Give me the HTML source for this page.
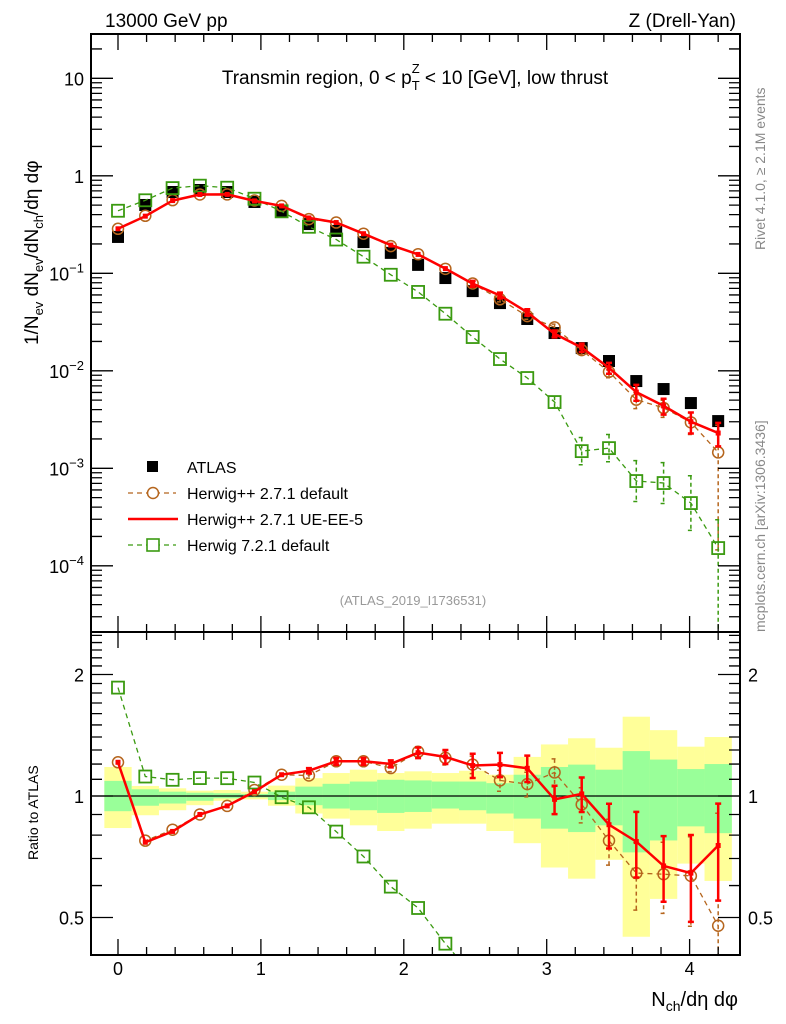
<!DOCTYPE html>
<html><head><meta charset="utf-8"><style>
html,body{margin:0;padding:0;background:#fff;overflow:hidden;width:786px;height:1024px;}
svg{display:block;font-family:"Liberation Sans",sans-serif;}
</style></head><body>
<svg id="chart" width="786" height="1024" viewBox="0 0 786 1024" xmlns="http://www.w3.org/2000/svg">
<defs>
<clipPath id="clipTop"><rect x="91" y="34" width="649" height="598"/></clipPath>
<clipPath id="clipBot"><rect x="91" y="632" width="649" height="323"/></clipPath>
</defs>
<text x="105" y="27" font-size="19">13000 GeV pp</text>
<text x="736" y="27" font-size="19" text-anchor="end">Z (Drell-Yan)</text>
<text x="415" y="84" font-size="19" text-anchor="middle">Transmin region, 0 &lt; p<tspan font-size="13" dy="6">T</tspan><tspan font-size="13" dx="-8" dy="-17">Z</tspan><tspan dy="11"> &lt; 10 [GeV], low thrust</tspan></text>
<text transform="translate(765,250) rotate(-90)" font-size="14" fill="#888">Rivet 4.1.0, ≥ 2.1M events</text>
<text transform="translate(765,632) rotate(-90)" font-size="14" fill="#888">mcplots.cern.ch [arXiv:1306.3436]</text>
<text transform="translate(38,345) rotate(-90)" font-size="19">1/N<tspan font-size="13" dy="5">ev</tspan><tspan dy="-5"> dN</tspan><tspan font-size="13" dy="5">ev</tspan><tspan dy="-5">/dN</tspan><tspan font-size="13" dy="5">ch</tspan><tspan dy="-5">/dη dφ</tspan></text>
<text transform="translate(38,860) rotate(-90)" font-size="14">Ratio to ATLAS</text>
<text x="738" y="1006" font-size="20" text-anchor="end">N<tspan font-size="14" dy="5">ch</tspan><tspan dy="-5">/dη dφ</tspan></text>
<text x="413" y="605" font-size="13" fill="#999" text-anchor="middle">(ATLAS_2019_I1736531)</text>
<g id="bands" clip-path="url(#clipBot)"></g>
<g id="marksTop" clip-path="url(#clipTop)"></g>
<g id="marksBot" clip-path="url(#clipBot)"></g>
<g id="axes"></g>
<g id="legend"></g>
</svg>
<script>
const nch = [0,0.191,0.382,0.573,0.764,0.955,1.145,1.336,1.527,1.718,1.909,2.1,2.291,2.482,2.673,2.864,3.055,3.245,3.436,3.627,3.818,4.009,4.2];
const atlas = [0.236,0.502,0.682,0.715,0.682,0.539,0.435,0.320,0.272,0.209,0.162,0.122,0.0894,0.0657,0.0495,0.0340,0.0244,0.0171,0.0126,0.00785,0.0065,0.00467,0.00305];
const redRatio = [1.212,0.768,0.817,0.900,0.945,1.025,1.129,1.155,1.219,1.219,1.201,1.28,1.25,1.19,1.196,1.171,0.981,1.012,0.849,0.771,0.671,0.644,0.754];
const redErr = [0.01,0.01,0.01,0.01,0.01,0.01,0.01,0.015,0.02,0.02,0.02,0.03,0.04,0.069,0.069,0.075,0.081,0.098,0.127,0.185,0.185,0.243,0.27];
const brownRatio = [1.212,0.775,0.825,0.900,0.945,1.035,1.129,1.124,1.219,1.219,1.173,1.287,1.243,1.196,1.093,1.070,1.144,0.953,0.775,0.644,0.640,0.634,0.477];
const brownErr = [0.01,0.01,0.01,0.01,0.01,0.01,0.01,0.015,0.02,0.02,0.02,0.03,0.04,0.05,0.06,0.07,0.08,0.1,0.13,0.19,0.2,0.25,0.9];
const green = [0.438,0.561,0.748,0.792,0.755,0.582,0.432,0.300,0.222,0.148,0.0966,0.0644,0.0385,0.0222,0.0132,0.00843,0.00478,0.00150,0.00161,0.00074,0.000706,0.00044,0.000152];
const greenErrUpDex = [0,0,0,0,0,0,0,0,0,0,0,0,0.01,0.01,0.01,0.02,0.06,0.14,0.14,0.21,0.21,0.28,0.29];
const greenErrLoDex = [0,0,0,0,0,0,0,0,0,0,0,0,0.01,0.01,0.01,0.02,0.06,0.14,0.14,0.21,0.21,0.28,3];
const bandTotHi = [1.18,1.059,1.045,1.031,1.035,1.025,1.061,1.107,1.14,1.162,1.14,1.151,1.14,1.155,1.129,1.25,1.342,1.39,1.317,1.572,1.456,1.325,1.4];
const bandTotLo = [0.833,0.896,0.922,0.949,0.973,0.981,0.946,0.905,0.879,0.846,0.819,0.83,0.854,0.854,0.819,0.764,0.665,0.624,0.695,0.448,0.556,0.68,0.616];
const bandStatHi = [1.09,1.039,1.025,1.019,1.016,1.012,1.025,1.055,1.072,1.086,1.097,1.093,1.086,1.086,1.076,1.129,1.18,1.196,1.162,1.292,1.231,1.166,1.2];
const bandStatLo = [0.917,0.946,0.958,0.973,0.987,0.992,0.977,0.949,0.931,0.922,0.908,0.913,0.931,0.922,0.905,0.879,0.83,0.814,0.846,0.725,0.776,0.841,0.809];
const xTicks = [0,1,2,3,4];
const topTickExp = [1,0,-1,-2,-3,-4];
const ratioTicks = [2,1,0.5];

const NS="http://www.w3.org/2000/svg";
const X0=91,X1=740,YT=34,YM=632,YB=955;
const sx=v=>118+v*142.9;
const sy=v=>175.8-97.5*Math.log10(v);
const sr=v=>796-121.5*Math.log2(v);
function mk(tag,attrs,parent){const e=document.createElementNS(NS,tag);for(const k in attrs)e.setAttribute(k,attrs[k]);parent.appendChild(e);return e;}
const bands=document.getElementById('bands'),mt=document.getElementById('marksTop'),mb=document.getElementById('marksBot'),ax=document.getElementById('axes'),lg=document.getElementById('legend');
const hw=0.0955;
for(let i=0;i<nch.length;i++){
 const y=mk('rect',{x:sx(nch[i]-hw),width:sx(nch[i]+hw)-sx(nch[i]-hw),y:sr(bandTotHi[i]),height:sr(bandTotLo[i])-sr(bandTotHi[i]),fill:'#ffff99'},bands);
 
 
}
for(let i=0;i<nch.length;i++){
 const g=mk('rect',{x:sx(nch[i]-hw),width:sx(nch[i]+hw)-sx(nch[i]-hw),y:sr(bandStatHi[i]),height:sr(bandStatLo[i])-sr(bandStatHi[i]),fill:'#99ff99'},bands);
 
 
}
const ref=mk('line',{x1:X0,x2:X1,y1:sr(1),y2:sr(1),stroke:'#000','stroke-width':1.3},mb);



const red=atlas.map((a,i)=>a*redRatio[i]);
const brown=atlas.map((a,i)=>a*brownRatio[i]);
const greenRatio=green.map((g,i)=>g/atlas[i]);

function series(parent,vals,ys,color,dash,width,name,marker,errLo,errHi,yLimit){
 const pts=vals.map((v,i)=>sx(nch[i]).toFixed(1)+','+Math.min(ys(v),yLimit+20).toFixed(1)).join(' ');
 const pl=mk('polyline',{points:pts,fill:'none',stroke:color,'stroke-width':width},parent);
 if(dash)pl.setAttribute('stroke-dasharray',dash);
 
 
 vals.forEach((v,i)=>{
  const x=sx(nch[i]);
  const lo=errLo(v,i),hi=errHi(v,i);
  const yl=Math.min(lo>0?ys(lo):yLimit+10,yLimit+10), yh=ys(hi);
  if(yl-yh>4){
   const eb=mk('path',{d:`M${x},${yh}V${yl}M${x-3},${yh}h6M${x-3},${yl}h6`,stroke:color,'stroke-width':width>2?2.5:1.5,fill:'none'},parent);
   if(dash)eb.setAttribute('stroke-dasharray','4,3');
   
   
  }
  const cy=ys(v);
  if(cy>yLimit+10)return;
  let m;
  if(marker==='circle')m=mk('circle',{cx:x,cy:cy,r:5.5,fill:'none',stroke:color,'stroke-width':1.5},parent);
  else if(marker==='square')m=mk('rect',{x:x-6,y:cy-6,width:12,height:12,fill:'none',stroke:color,'stroke-width':1.8},parent);
  else m=mk('rect',{x:x-2.5,y:cy-2.5,width:5,height:5,fill:color},parent);
  
  
 });
}
atlas.forEach((v,i)=>{
 const r=mk('rect',{x:sx(nch[i])-6,y:sy(v)-6,width:12,height:12,fill:'#000'},mt);
 
 
});
series(mt,brown,sy,'#b5651d','5,4',1.3,'herwigpp-default','circle',(v,i)=>v*(1-brownErr[i]),(v,i)=>v*(1+brownErr[i]),YM);
series(mt,green,sy,'#3a9a10','5,4',1.3,'herwig7-default','square',(v,i)=>v/Math.pow(10,greenErrLoDex[i]),(v,i)=>v*Math.pow(10,greenErrUpDex[i]),YM);
series(mt,red,sy,'#ff0000',null,2.5,'herwigpp-ue-ee5','dot',(v,i)=>v*(1-redErr[i]),(v,i)=>v*(1+redErr[i]),YM);
series(mb,brownRatio,sr,'#b5651d','5,4',1.3,'ratio-herwigpp-default','circle',(v,i)=>v*(1-brownErr[i]),(v,i)=>v*(1+brownErr[i]),YB);
series(mb,greenRatio,sr,'#3a9a10','5,4',1.3,'ratio-herwig7-default','square',(v,i)=>v,(v,i)=>v,YB);
series(mb,redRatio,sr,'#ff0000',null,2.5,'ratio-herwigpp-ue-ee5','dot',(v,i)=>v*(1-redErr[i]),(v,i)=>v*(1+redErr[i]),YB);

const f1=mk('rect',{x:X0,y:YT,width:X1-X0,height:YM-YT,fill:'none',stroke:'#000','stroke-width':2},ax);


const f2=mk('rect',{x:X0,y:YM,width:X1-X0,height:YB-YM,fill:'none',stroke:'#000','stroke-width':2},ax);


let tp='';
for(let k=-1;k<=22;k++){const v=k*0.2;const x=sx(v);if(x<X0||x>X1)continue;const major=Math.abs(v-Math.round(v))<1e-6;const L=major?16:8;
 tp+=`M${x},${YT}v${L}M${x},${YM}v-${L}M${x},${YM}v${L}M${x},${YB}v-${L}`;}
topTickExp.concat([2,-5]).forEach(e=>{for(let m=1;m<10;m++){const v=m*Math.pow(10,e);const y=sy(v);if(y<YT||y>YM)continue;const L=m===1?22:11;tp+=`M${X0},${y}h${L}M${X1},${y}h-${L}`;}});
for(let v=0.4;v<=2.6;v+=0.1){const y=sr(v);if(y<YM||y>YB)continue;const major=[0.5,1,2].some(t=>Math.abs(t-v)<1e-6);const L=major?22:11;tp+=`M${X0},${y}h${L}M${X1},${y}h-${L}`;}
const tk=mk('path',{d:tp,stroke:'#000','stroke-width':1.3,fill:'none'},ax);


xTicks.forEach(v=>{const t=mk('text',{x:sx(v),y:975,'font-size':18,'text-anchor':'middle'},ax);t.textContent=v;
 
 });
topTickExp.forEach(e=>{const y=sy(Math.pow(10,e))+7;const t=mk('text',{x:84,y:y,'font-size':18,'text-anchor':'end'},ax);
 if(e===1)t.textContent='10';else if(e===0)t.textContent='1';else{t.textContent='10';const s=mk('tspan',{'font-size':13,dy:-8},t);s.textContent=String(e).replace('-','−');}
 
 });
ratioTicks.forEach(v=>{const y=sr(v)+7;
 const a=mk('text',{x:84,y:y,'font-size':18,'text-anchor':'end'},ax);a.textContent=v;
 
 
 const b=mk('text',{x:748,y:y,'font-size':18},ax);b.textContent=v;
 
 });
const legItems=[['ATLAS','atlas'],['Herwig++ 2.7.1 default','brown'],['Herwig++ 2.7.1 UE-EE-5','red'],['Herwig 7.2.1 default','green']];
legItems.forEach((it,i)=>{const y=467+i*26;
 if(it[1]==='atlas'){const r=mk('rect',{x:147,y:y-6,width:11,height:11,fill:'#000'},lg);}
 if(it[1]==='brown'){mk('line',{x1:128,x2:176,y1:y,y2:y,stroke:'#b5651d','stroke-width':1.3,'stroke-dasharray':'5,4'},lg);mk('circle',{cx:153,cy:y,r:5.5,fill:'#fff',stroke:'#b5651d','stroke-width':1.5},lg);}
 if(it[1]==='red'){mk('line',{x1:128,x2:178,y1:y,y2:y,stroke:'#ff0000','stroke-width':2.5},lg);}
 if(it[1]==='green'){mk('line',{x1:128,x2:176,y1:y,y2:y,stroke:'#3a9a10','stroke-width':1.3,'stroke-dasharray':'5,4'},lg);mk('rect',{x:147,y:y-6,width:12,height:12,fill:'#fff',stroke:'#3a9a10','stroke-width':1.6},lg);}
 const t=mk('text',{x:187,y:y+6,'font-size':16},lg);t.textContent=it[0];
 
 
});
</script>
</body></html>
